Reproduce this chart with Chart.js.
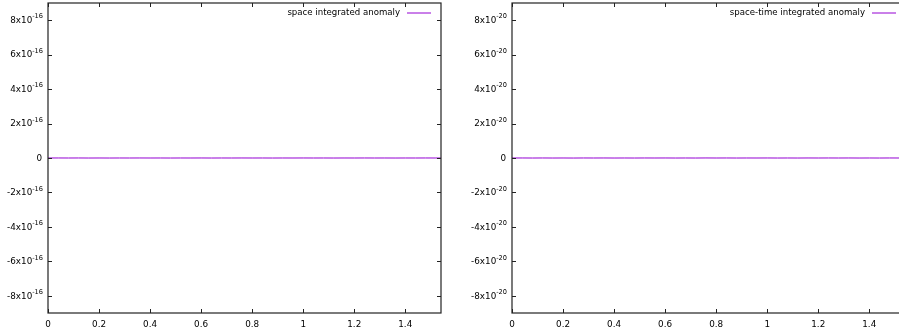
<!DOCTYPE html>
<html>
<head>
<meta charset="utf-8">
<script src="https://cdn.jsdelivr.net/npm/chart.js@4/dist/chart.umd.min.js"></script>
<style>
html,body{margin:0;padding:0;background:#fff;overflow:hidden;width:899px;height:334px;}
canvas{position:absolute;top:0;}
#c1{left:0;}
#c2{left:464px;}
</style>
</head>
<body>
<canvas id="c1" width="450" height="334"></canvas>
<canvas id="c2" width="450" height="334"></canvas>
<script>
// ---- data ----
const xValues = [0,0.04,0.08,0.12,0.16,0.2,0.24,0.28,0.32,0.36,0.4,0.44,0.48,0.52,0.56,0.6,0.64,0.68,0.72,0.76,0.8,0.84,0.88,0.92,0.96,1,1.04,1.08,1.12,1.16,1.2,1.24,1.28,1.32,1.36,1.4,1.44,1.48,1.52,1.56];
const spaceAnomaly = [0,1.1e-19,-0.7e-19,1.4e-19,-1.0e-19,0.5e-19,-1.3e-19,0.9e-19,-0.4e-19,1.2e-19,-0.9e-19,0.3e-19,-1.1e-19,0.8e-19,-0.6e-19,1.0e-19,-1.2e-19,0.4e-19,-0.8e-19,1.3e-19,-0.5e-19,0.7e-19,-1.0e-19,0.6e-19,-0.3e-19,1.1e-19,-0.9e-19,0.2e-19,-1.2e-19,0.8e-19,-0.6e-19,1.0e-19,-0.4e-19,0.9e-19,-1.1e-19,0.5e-19,-0.7e-19,1.2e-19,-0.3e-19,0.6e-19];
const spaceTimeAnomaly = [0,1.4e-23,-1.0e-23,1.8e-23,-1.5e-23,0.7e-23,-1.9e-23,1.2e-23,-0.6e-23,1.6e-23,-1.3e-23,0.5e-23,-1.7e-23,1.1e-23,-0.8e-23,1.5e-23,-1.8e-23,0.6e-23,-1.2e-23,1.9e-23,-0.7e-23,1.0e-23,-1.4e-23,0.9e-23,-0.5e-23,1.6e-23,-1.3e-23,0.4e-23,-1.7e-23,1.2e-23,-0.9e-23,1.4e-23,-0.6e-23,1.3e-23,-1.6e-23,0.8e-23,-1.0e-23,1.7e-23,-0.5e-23,0.9e-23];
const xTickValues = [0,0.2,0.4,0.6,0.8,1,1.2,1.4];
const xTickLabels = ['0','0.2','0.4','0.6','0.8','1','1.2','1.4'];
const yTickMantissas = [-8,-6,-4,-2,0,2,4,6,8];
const leftExponent = -16;
const rightExponent = -20;
const yLimit = 9;
const xMin = 0, xMax = 1.54;
const leftLabel = 'space integrated anomaly';
const rightLabel = 'space-time integrated anomaly';

const FONT = '"DejaVu Sans", sans-serif';
const LINE_COLOR = '#9400d3';

const gnuplotFrame = {
  id: 'gnuplotFrame',
  afterDraw(chart, args, opts) {
    const ctx = chart.ctx;
    const a = chart.chartArea;
    const xs = chart.scales.x, ys = chart.scales.y;
    const exp = opts.exponent;
    const scale = Math.pow(10, exp);
    ctx.save();
    ctx.strokeStyle = '#222';
    ctx.lineWidth = 1.2;
    ctx.strokeRect(a.left, a.top, a.right - a.left, a.bottom - a.top);
    const tl = 4;
    ctx.lineWidth = 1;
    ctx.beginPath();
    xTickValues.forEach(v => {
      const px = Math.round(xs.getPixelForValue(v)) + 0.5;
      ctx.moveTo(px, a.bottom); ctx.lineTo(px, a.bottom - tl);
      ctx.moveTo(px, a.top); ctx.lineTo(px, a.top + tl);
    });
    yTickMantissas.forEach(m => {
      const py = Math.round(ys.getPixelForValue(m * scale)) + 0.5;
      ctx.moveTo(a.left, py); ctx.lineTo(a.left + tl, py);
      ctx.moveTo(a.right, py); ctx.lineTo(a.right - tl, py);
    });
    ctx.stroke();
    ctx.fillStyle = '#000';
    ctx.textBaseline = 'middle';
    ctx.textAlign = 'right';
    const xEnd = a.left - 5;
    yTickMantissas.forEach(m => {
      const py = ys.getPixelForValue(m * scale) + 0.5;
      if (m === 0) {
        ctx.font = '8.8px ' + FONT;
        ctx.fillText('0', xEnd - 1, py);
      } else {
        ctx.font = '6.6px ' + FONT;
        const e = String(exp);
        const ew = ctx.measureText(e).width;
        ctx.fillText(e, xEnd, py - 4);
        ctx.font = '8.8px ' + FONT;
        ctx.fillText(m + 'x10', xEnd - ew, py);
      }
    });
    const ds = chart.data.datasets[0];
    ctx.font = '8.6px ' + FONT;
    ctx.textAlign = 'right';
    ctx.fillText(ds.label, opts.legendTextEnd, 13);
    ctx.strokeStyle = ds.borderColor;
    ctx.lineWidth = 1;
    ctx.beginPath();
    ctx.moveTo(opts.legendTextEnd + 7, 13);
    ctx.lineTo(opts.legendTextEnd + 31, 13);
    ctx.stroke();
    ctx.restore();
  }
};

function makeChart(id, label, values, exponent, legendTextEnd) {
  const scale = Math.pow(10, exponent);
  return new Chart(document.getElementById(id), {
    type: 'line',
    data: {
      datasets: [{
        label: label,
        data: xValues.map((x, i) => ({x: x, y: values[i]})),
        borderColor: LINE_COLOR,
        borderWidth: 1,
        pointRadius: 0,
        tension: 0,
        fill: false
      }]
    },
    options: {
      responsive: false,
      animation: false,
      devicePixelRatio: 1,
      layout: {padding: {left: 0, right: 9, top: 3, bottom: 0}},
      plugins: {
        legend: {display: false},
        tooltip: {enabled: false},
        gnuplotFrame: {exponent: exponent, legendTextEnd: legendTextEnd}
      },
      scales: {
        x: {
          type: 'linear',
          min: xMin, max: xMax,
          grid: {display: false, drawTicks: false},
          border: {display: false},
          afterBuildTicks: s => { s.ticks = xTickValues.map(v => ({value: v})); },
          afterFit: s => { s.height = 21; },
          ticks: {
            padding: 6,
            color: '#000',
            font: {family: FONT, size: 8.8},
            maxRotation: 0,
            autoSkip: false,
            callback: (v) => { const i = xTickValues.indexOf(v); return i >= 0 ? xTickLabels[i] : ''; }
          }
        },
        y: {
          type: 'linear',
          min: -yLimit * scale, max: yLimit * scale,
          grid: {display: false, drawTicks: false},
          border: {display: false},
          afterBuildTicks: s => { s.ticks = yTickMantissas.map(m => ({value: m * scale})); },
          afterFit: s => { s.width = 48; },
          ticks: {display: false}
        }
      }
    },
    plugins: [gnuplotFrame]
  });
}

makeChart('c1', leftLabel, spaceAnomaly, leftExponent, 400);
makeChart('c2', rightLabel, spaceTimeAnomaly, rightExponent, 401);
</script>
</body>
</html>
